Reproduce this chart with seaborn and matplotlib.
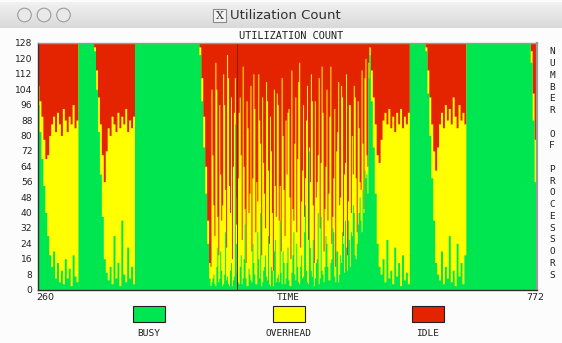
import numpy as np
import pandas as pd
import matplotlib
matplotlib.use("Agg")
import matplotlib.pyplot as plt
import seaborn as sns
from matplotlib.patches import Rectangle, Circle

# ---------------- data ----------------
# main samples every 2 time units
TIME = np.arange(260, 773, 2)

BUSY = [
    96, 82, 68, 54, 40, 28, 18, 12, 20, 6, 14, 4, 10, 3, 16, 6, 11, 2, 18, 7, 4,
    128, 128, 128, 128, 128, 128, 128, 128,
    124, 104, 82, 60, 38, 16, 9, 5, 12, 3, 28, 6, 14, 2, 36, 8, 4, 22, 6, 12, 3,
    128, 128, 128, 128, 128, 128, 128, 128, 128, 128, 128, 128, 128, 128, 128, 128, 128,
    128, 128, 128, 128, 128, 128, 128, 128, 128, 128, 128, 128, 128, 128, 128, 128,
    122, 98, 74, 50, 24, 6,
    4, 8, 2, 22, 6, 10, 3, 30, 7, 2,
    14, 5, 86, 9, 3, 18, 6, 34, 2, 11,
    5, 24, 8, 3, 16, 40, 4, 12, 7, 28,
    2, 10, 20, 4, 8, 36, 3, 14, 6, 22,
    2, 9, 30, 5, 12, 3, 18, 7, 44, 4,
    72, 10, 26, 6, 16, 3, 38, 8, 12, 24,
    5, 14, 32, 7, 20, 4, 18, 30, 9, 22,
    36, 12, 28, 40, 16, 34, 48, 30, 40, 58,
    50,
    122, 98, 74, 50, 24, 12, 8, 16, 4, 26, 6, 10, 3, 22, 7, 14, 2, 18, 5, 9, 3,
    128, 128, 128, 128, 128, 128, 128, 128,
    124, 102, 80, 58, 36, 14, 8, 5, 20, 3, 12, 6, 28, 4, 10, 2, 24, 7, 14, 3, 18,
    128, 128, 128, 128, 128, 128, 128, 128, 128, 128, 128, 128, 128, 128, 128, 128, 128,
    128, 128, 128, 128, 128, 128, 128, 128, 128, 128, 128, 128, 128, 128, 128, 128,
    118, 88, 56, 20,
]

OVERHEAD = [
    10, 16, 22, 24, 28, 42, 62, 74, 70, 76, 78, 82, 70, 91, 72, 76, 79, 84, 78, 77, 84,
    0, 0, 0, 0, 0, 0, 0, 0,
    2, 10, 18, 26, 32, 40, 63, 79, 68, 87, 58, 76, 78, 82, 54, 78, 90, 60, 82, 72, 87,
    0, 0, 0, 0, 0, 0, 0, 0, 0, 0, 0, 0, 0, 0, 0, 0, 0,
    0, 0, 0, 0, 0, 0, 0, 0, 0, 0, 0, 0, 0, 0, 0, 0,
    4, 12, 16, 14, 12, 8,
    100, 36, 116, 16, 90, 26, 109, 22, 115, 52,
    86, 59, 24, 39, 89, 52, 110, 8, 96, 29,
    101, 34, 86, 53, 96, 36, 96, 38, 101, 34,
    88, 30, 84, 34, 88, 18, 107, 38, 82, 70,
    46, 105, 6, 95, 56, 115, 28, 89, 14, 102,
    2, 102, 18, 92, 40, 107, 28, 84, 30, 80,
    45, 102, 6, 87, 52, 104, 30, 70, 51, 90,
    10, 84, 52, 66, 42, 64, 8, 84, 2, 62,
    14,
    4, 16, 26, 36, 46, 54, 70, 72, 88, 60, 88, 74, 87, 60, 85, 72, 92, 66, 85, 77, 89,
    0, 0, 0, 0, 0, 0, 0, 0,
    2, 12, 20, 28, 36, 48, 66, 81, 72, 81, 84, 82, 66, 82, 90, 88, 60, 89, 74, 89, 68,
    0, 0, 0, 0, 0, 0, 0, 0, 0, 0, 0, 0, 0, 0, 0, 0, 0,
    0, 0, 0, 0, 0, 0, 0, 0, 0, 0, 0, 0, 0, 0, 0, 0,
    6, 14, 22, 32,
]

IDLE = [
    22, 30, 38, 50, 60, 58, 48, 42, 38, 46, 36, 42, 48, 34, 40, 46, 38, 42, 32, 44, 40,
    0, 0, 0, 0, 0, 0, 0, 0,
    2, 14, 28, 42, 58, 72, 56, 44, 48, 38, 42, 46, 36, 44, 38, 42, 34, 46, 40, 44, 38,
    0, 0, 0, 0, 0, 0, 0, 0, 0, 0, 0, 0, 0, 0, 0, 0, 0,
    0, 0, 0, 0, 0, 0, 0, 0, 0, 0, 0, 0, 0, 0, 0, 0,
    2, 18, 38, 64, 92, 114,
    24, 84, 10, 90, 32, 92, 16, 76, 6, 74,
    28, 64, 18, 80, 36, 58, 12, 86, 30, 88,
    22, 70, 34, 72, 16, 52, 28, 78, 20, 66,
    38, 88, 24, 90, 32, 74, 18, 76, 40, 36,
    80, 14, 92, 28, 60, 10, 82, 32, 70, 22,
    54, 16, 84, 30, 72, 18, 62, 36, 86, 24,
    78, 12, 90, 34, 56, 20, 80, 28, 68, 16,
    82, 32, 48, 22, 70, 30, 72, 14, 86, 8,
    64,
    2, 14, 28, 42, 58, 62, 50, 40, 36, 42, 34, 44, 38, 46, 36, 42, 34, 44, 38, 42, 36,
    0, 0, 0, 0, 0, 0, 0, 0,
    2, 14, 28, 42, 56, 66, 54, 42, 36, 44, 32, 40, 34, 42, 28, 38, 44, 32, 40, 36, 42,
    0, 0, 0, 0, 0, 0, 0, 0, 0, 0, 0, 0, 0, 0, 0, 0, 0,
    0, 0, 0, 0, 0, 0, 0, 0, 0, 0, 0, 0, 0, 0, 0, 0,
    4, 26, 50, 76,
]

# extra samples at the odd time units inside the busy, rapidly switching phase
TIME_FINE = np.arange(437, 600, 2)

BUSY_FINE = [
    2, 6, 3, 12, 4, 20, 2, 8, 5, 3,
    10, 2, 7, 24, 4, 12, 3, 16, 6, 2,
    8, 4, 14, 3, 30, 6, 2, 10, 18, 5,
    3, 12, 2, 26, 6, 4, 9, 20, 3, 14,
    5, 2, 18, 8, 24, 4, 12, 6, 30, 10,
    3, 22, 7, 2, 14, 40, 6, 10, 4, 28,
    12, 5, 16, 30, 4, 20, 8, 14, 24, 36,
    10, 26, 30, 44, 18, 24, 40, 36, 52, 62,
    60, 110,
]

OVERHEAD_FINE = [
    10, 64, 25, 92, 14, 40, 42, 88, 17, 107,
    30, 14, 85, 10, 54, 88, 23, 48, 8, 82,
    42, 16, 98, 27, 16, 82, 16, 56, 14, 93,
    21, 60, 8, 28, 96, 32, 11, 60, 25, 46,
    89, 14, 24, 68, 6, 104, 10, 56, 8, 78,
    23, 34, 91, 12, 34, 30, 26, 106, 16, 36,
    24, 85, 8, 28, 8, 62, 36, 92, 4, 30,
    8, 70, 10, 16, 82, 6, 44, 16, 24, 48,
    10, 8,
]

IDLE_FINE = [
    116, 58, 100, 24, 110, 68, 84, 32, 106, 18,
    88, 112, 36, 94, 70, 28, 102, 64, 114, 44,
    78, 108, 16, 98, 82, 40, 110, 62, 96, 30,
    104, 56, 118, 74, 26, 92, 108, 48, 100, 68,
    34, 112, 86, 52, 98, 20, 106, 66, 90, 40,
    102, 72, 30, 114, 80, 58, 96, 12, 108, 64,
    92, 38, 104, 70, 116, 46, 84, 22, 100, 62,
    110, 32, 88, 68, 28, 98, 44, 76, 52, 18,
    58, 10,
]

SERIES = ["BUSY", "OVERHEAD", "IDLE"]
COLORS = ["#00E650", "#FFFF00", "#E42400"]
TOTAL_PROCESSORS = 128
Y_TICKS = list(range(0, 129, 8))
X_RANGE = [260, 772]
X_LABEL = "TIME"
Y_LABEL = "NUMBER OF PROCESSORS"
TITLE = "UTILIZATION COUNT"
WINDOW_TITLE = "Utilization Count"
MARKER_TIME = 464

df = pd.concat([
    pd.DataFrame({"time": TIME, "BUSY": BUSY, "OVERHEAD": OVERHEAD, "IDLE": IDLE}),
    pd.DataFrame({"time": TIME_FINE, "BUSY": BUSY_FINE, "OVERHEAD": OVERHEAD_FINE,
                  "IDLE": IDLE_FINE}),
]).sort_values("time").reset_index(drop=True)

# ---------------- figure ----------------
sns.set_theme(style="white")
plt.rcParams["font.family"] = ["DejaVu Sans"]

W, H = 562, 343
fig = plt.figure(figsize=(W / 100, H / 100), dpi=100, facecolor="#fcfcfc")


def fx(px):
    return px / W


def fy(py):
    return 1 - py / H


# window title bar
tb = fig.add_axes([0, fy(28), 1, 26 / H])
grad = np.linspace(0, 1, 50).reshape(-1, 1)
tb.imshow(grad, aspect="auto", cmap=sns.blend_palette(["#f2f2f2", "#d9d9d9"], as_cmap=True),
          extent=[0, W, 28, 2])
tb.set_xlim(0, W)
tb.set_ylim(28, 2)
tb.axis("off")
for cx in (24.5, 44, 63.5):
    tb.add_patch(Circle((cx, 15), 6.8, facecolor="#e9e9e9", edgecolor="#9c9c9c", lw=0.8))
tb.add_patch(Rectangle((213, 9), 13, 13, facecolor="#f4f4f4", edgecolor="#8a8a8a", lw=0.8))
tb.text(219.5, 15.8, "X", ha="center", va="center", fontsize=8, family="DejaVu Serif",
        color="#333333")
tb.text(230, 15.5, WINDOW_TITLE, ha="left", va="center", fontsize=9.5, color="#303030")

# plot area: stacked columns (drawn back to front so no seams appear)
ax = fig.add_axes([fx(38), fy(289.5), fx(537) - fx(38), (289.5 - 43) / H])
busy = df["BUSY"].to_numpy()
top_over = busy + df["OVERHEAD"].to_numpy()
top_idle = top_over + df["IDLE"].to_numpy()
t = df["time"].to_numpy()
for upper, col in ((top_idle, COLORS[2]), (top_over, COLORS[1]), (busy, COLORS[0])):
    ax.fill_between(t, 0, upper, step="mid", color=col, lw=0, antialiased=True)
ax.axvline(MARKER_TIME, color="#8a1a10", lw=0.7)
ax.set_xlim(*X_RANGE)
ax.set_ylim(0, TOTAL_PROCESSORS)
ax.set_yticks(Y_TICKS)
ax.set_yticklabels([str(v) for v in Y_TICKS], fontsize=6.6, color="#222222")
ax.tick_params(axis="y", length=0, pad=4)
ax.set_xticks([])
for side, col in (("left", "#303030"), ("bottom", "#303030"), ("top", "#9a9a9a"),
                  ("right", "#9a9a9a")):
    ax.spines[side].set_color(col)
    ax.spines[side].set_linewidth(1.0)
ax.spines["right"].set_linewidth(1.6)

mono = "DejaVu Sans Mono"
fig.text(fx(291), fy(36), TITLE, ha="center", va="center", fontsize=7.4, family=mono,
         color="#202020")
fig.text(fx(36), fy(297.5), str(X_RANGE[0]), ha="left", va="center", fontsize=6.8,
         color="#222222")
fig.text(fx(544), fy(297.5), str(X_RANGE[1]), ha="right", va="center", fontsize=6.8,
         color="#222222")
fig.text(fx(288.5), fy(297.5), X_LABEL, ha="center", va="center", fontsize=6.8,
         family=mono, color="#202020")

# right vertical label
n = len(Y_LABEL)
for k, ch in enumerate(Y_LABEL):
    if ch == " ":
        continue
    ypx = 52 + k * (275 - 52) / (n - 1)
    fig.text(fx(552), fy(ypx), ch, ha="center", va="center", fontsize=6.8, family=mono,
             color="#202020")

# legend
legend_x = [133, 273, 412]
for lx, name, col in zip(legend_x, SERIES, COLORS):
    fig.patches.append(Rectangle((fx(lx), fy(322)), 32 / W, 16 / H, transform=fig.transFigure,
                                 facecolor=col, edgecolor="#202020", lw=0.8))
    fig.text(fx(lx + 16), fy(333.5), name, ha="center", va="center", fontsize=6.8,
             family=mono, color="#202020")

fig.savefig("out.png", dpi=100, facecolor=fig.get_facecolor())
